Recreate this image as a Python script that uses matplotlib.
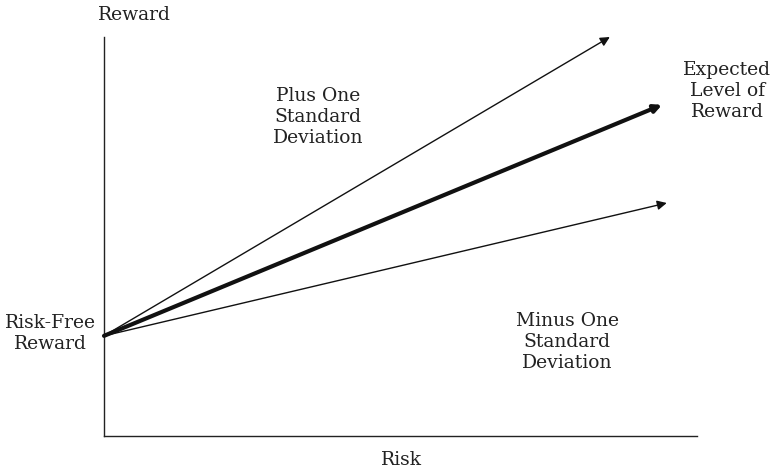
import matplotlib
matplotlib.use('Agg')
import matplotlib.pyplot as plt

# risk/reward lines, all start at the risk-free reward (axis units 0..100)
origin = (0, 25.1)
line_names = ['Plus One Standard Deviation', 'Expected Level of Reward', 'Minus One Standard Deviation']
end_x = [85.3, 94.1, 94.9]
end_y = [100.0, 83.0, 58.4]
widths = [1.0, 3.0, 1.0]

plt.rcParams['font.family'] = ['DejaVu Serif']
fs = 13.5

fig = plt.figure(figsize=(7.72, 4.70), dpi=100)
ax = fig.add_axes([104 / 772, 34 / 470, 593 / 772, 399 / 470])
ax.set_xlim(0, 100)
ax.set_ylim(0, 100)
for s in ['top', 'right']:
    ax.spines[s].set_visible(False)
for s in ['left', 'bottom']:
    ax.spines[s].set_linewidth(1.0)
    ax.spines[s].set_color('#222222')
ax.set_xticks([])
ax.set_yticks([])

for x, y, w in zip(end_x, end_y, widths):
    ax.annotate('', xy=(x, y), xytext=origin,
                arrowprops=dict(arrowstyle='-|>', lw=w, color='#111111',
                                mutation_scale=14 if w < 2 else 11,
                                shrinkA=0, shrinkB=0),
                annotation_clip=False)

tc = '#222222'
ax.text(5.2, 105.5, 'Reward', ha='center', va='center', fontsize=fs, color=tc, clip_on=False)
ax.text(50.2, -6.0, 'Risk', ha='center', va='center', fontsize=fs, color=tc, clip_on=False)
ax.text(-9.1, 25.6, 'Risk-Free\nReward', ha='center', va='center', fontsize=fs, color=tc, clip_on=False)
ax.text(105.1, 86.5, 'Expected\nLevel of\nReward', ha='center', va='center', fontsize=fs, color=tc, clip_on=False)
ax.text(36.1, 79.9, 'Plus One\nStandard\nDeviation', ha='center', va='center', fontsize=fs, color=tc, clip_on=False)
ax.text(78.1, 23.6, 'Minus One\nStandard\nDeviation', ha='center', va='center', fontsize=fs, color=tc, clip_on=False)

fig.savefig('out.png', dpi=100)
